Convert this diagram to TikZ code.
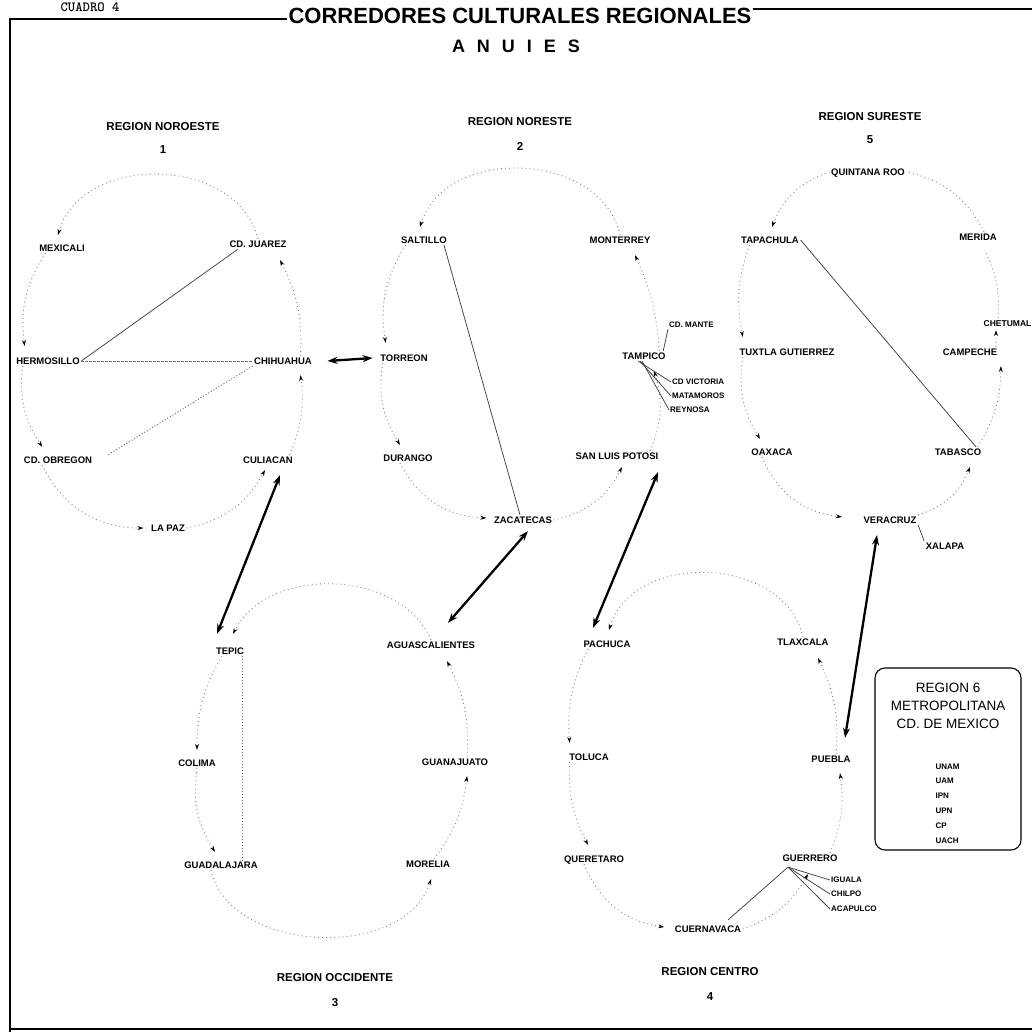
\documentclass[tikz,border=0pt]{standalone}
\usepackage{fontspec}
\setmainfont{Liberation Sans}
\usetikzlibrary{arrows.meta,calc}
\begin{document}
\begin{tikzpicture}[x=1pt,y=1pt,
  city/.style={font=\fontsize{9.5}{10}\selectfont\bfseries, inner sep=1.5pt, text height=6.8pt, text depth=0pt},
  smallcity/.style={font=\fontsize{8}{9}\selectfont\bfseries, inner sep=1pt, anchor=west, text height=5.8pt, text depth=0pt},
  cyc/.style={draw=black!50, line width=0.9pt, dash pattern=on 0.9pt off 3.2pt, -{Stealth[black,length=6pt,width=4pt]}},
  cycn/.style={draw=black!50, line width=0.9pt, dash pattern=on 0.9pt off 3.2pt},
  chord/.style={draw=black!75, line width=0.75pt},
  chordd/.style={draw=black!55, line width=0.9pt, dash pattern=on 2.5pt off 1.5pt},
  chorddot/.style={draw=black!60, line width=0.9pt, dash pattern=on 1pt off 2pt},
  dbl/.style={line width=2.3pt, {Stealth[length=10pt,width=7pt]}-{Stealth[length=10pt,width=7pt]}},
  rtitle/.style={font=\fontsize{11.5}{13}\selectfont\bfseries},
  frame/.style={line width=1.3pt},
]
\useasboundingbox (0,0) rectangle (1032,-1032);

% ---------- titles and frame
\node[font=\fontsize{22}{24}\selectfont\bfseries, inner sep=0pt] (title) at (520,-16) {CORREDORES CULTURALES REGIONALES};
\node[font=\fontsize{18}{20}\selectfont\bfseries] (anuies) at (516,-46) {A\hspace{12pt}N\hspace{12pt}U\hspace{12pt}I\hspace{12pt}E\hspace{12pt}S};
\node[font=\ttfamily\bfseries\fontsize{14}{14}\selectfont, anchor=base] (cuadro) at (90,-12) {CUADRO\ 4};
\draw[frame] ([xshift=-1pt,yshift=-3pt]title.west) -- (10,-19) -- (10,-1032);
\draw[frame] ([xshift=1pt,yshift=7pt]title.east) -- (1032,-9);
\draw[line width=1.6pt] (10,-1029) -- (1032,-1029);

% ---------- region titles
\node[rtitle] (t1) at (163,-127) {REGION NOROESTE};
\node[rtitle] (n1) at (163,-150) {1};
\node[rtitle] (t2) at (520,-122) {REGION NORESTE};
\node[rtitle] (n2) at (520,-146) {2};
\node[rtitle] (t5) at (870,-117) {REGION SURESTE};
\node[rtitle] (n5) at (870,-140) {5};
\node[rtitle] (t3) at (335,-978) {REGION OCCIDENTE};
\node[rtitle] (n3) at (335,-1003) {3};
\node[rtitle] (t4) at (710,-972) {REGION CENTRO};
\node[rtitle] (n4) at (710,-997) {4};

% ---------- region 1 nodes
\node[city] (mexicali) at (62,-248) {MEXICALI};
\node[city] (cdjuarez) at (258,-244) {CD. JUAREZ};
\node[city] (hermosillo) at (48,-361) {HERMOSILLO};
\node[city] (chihuahua) at (283,-361) {CHIHUAHUA};
\node[city] (obregon) at (58,-460) {CD. OBREGON};
\node[city] (culiacan) at (268,-460) {CULIACAN};
\node[city] (lapaz) at (168,-528) {LA PAZ};

% ---------- region 2 nodes
\node[city] (saltillo) at (424,-240) {SALTILLO};
\node[city] (monterrey) at (620,-240) {MONTERREY};
\node[smallcity] (cdmante) at (668,-325) {CD. MANTE};
\node[city] (tampico) at (644,-356) {TAMPICO};
\node[smallcity] (cdvictoria) at (671,-382) {CD VICTORIA};
\node[smallcity] (matamoros) at (671,-396) {MATAMOROS};
\node[smallcity] (reynosa) at (669,-410) {REYNOSA};
\node[city] (torreon) at (404,-358) {TORREON};
\node[city] (durango) at (408,-458) {DURANGO};
\node[city] (slp) at (617,-456) {SAN LUIS POTOSI};
\node[city] (zacatecas) at (523,-520) {ZACATECAS};

% ---------- region 5 nodes
\node[city] (quintana) at (868,-172) {QUINTANA ROO};
\node[city] (tapachula) at (770,-240) {TAPACHULA};
\node[city] (merida) at (978,-237) {MERIDA};
\node[city, anchor=west, font=\fontsize{8.5}{9}\selectfont\bfseries] (chetumal) at (982,-323) {CHETUMAL};
\node[city] (campeche) at (970,-352) {CAMPECHE};
\node[city] (tuxtla) at (787,-352) {TUXTLA GUTIERREZ};
\node[city] (oaxaca) at (772,-452) {OAXACA};
\node[city] (tabasco) at (958,-452) {TABASCO};
\node[city] (veracruz) at (890,-520) {VERACRUZ};
\node[city] (xalapa) at (945,-546) {XALAPA};

% ---------- region 3 nodes
\node[city] (tepic) at (230,-651) {TEPIC};
\node[city] (aguas) at (431,-645) {AGUASCALIENTES};
\node[city] (colima) at (197,-763) {COLIMA};
\node[city] (guanajuato) at (455,-762) {GUANAJUATO};
\node[city] (guadalajara) at (221,-865) {GUADALAJARA};
\node[city] (morelia) at (428,-864) {MORELIA};

% ---------- region 4 nodes
\node[city] (pachuca) at (607,-644) {PACHUCA};
\node[city] (tlaxcala) at (803,-642) {TLAXCALA};
\node[city] (toluca) at (589,-757) {TOLUCA};
\node[city] (puebla) at (831,-759) {PUEBLA};
\node[city] (queretaro) at (594,-859) {QUERETARO};
\node[city] (guerrero) at (810,-858) {GUERRERO};
\node[smallcity] (iguala) at (830,-880) {IGUALA};
\node[smallcity] (chilpo) at (830,-894) {CHILPO};
\node[smallcity] (acapulco) at (830,-909) {ACAPULCO};
\node[city] (cuernavaca) at (708,-929) {CUERNAVACA};

% ---------- region 6 box
\node[draw, rounded corners=10pt, line width=1.1pt, minimum width=146pt, minimum height=182pt] (r6box) at (948,-759) {};
\node[font=\fontsize{13.5}{15}\selectfont, align=center, anchor=north] (r6title) at ([yshift=-12pt]r6box.north) {REGION 6\\[3pt]METROPOLITANA\\[3pt]CD. DE MEXICO};
\node[font=\fontsize{8}{14.8}\selectfont\bfseries, align=left, anchor=north west] (r6list) at (932,-760) {UNAM\\UAM\\IPN\\UPN\\CP\\UACH};

% ---------- region 1 cycle
\draw[cyc] (cdjuarez.north) to[bend right=75, looseness=1.1] ([xshift=-4pt,yshift=8pt]mexicali.north);
\draw[cyc] ([xshift=8pt]mexicali.south west) to[bend right=20] ([xshift=10pt,yshift=10pt]hermosillo.north west);
\draw[cyc] ([xshift=8pt]hermosillo.south west) to[bend right=20] ([xshift=20pt,yshift=8pt]obregon.north west);
\draw[cyc] ([xshift=20pt]obregon.south west) to[bend right=32] ([xshift=-6pt]lapaz.west);
\draw[cyc] (lapaz.east) to[bend right=25] ([xshift=-3pt,yshift=-5pt]culiacan.south);
\draw[cyc] ([xshift=-5pt]culiacan.north east) to[bend right=15] ([xshift=-13pt,yshift=-9pt]chihuahua.south east);
\draw[cyc] ([xshift=-13pt]chihuahua.north east) to[bend right=15] ([xshift=22pt,yshift=-11pt]cdjuarez.south);
\draw[chord] (hermosillo.east) -- ([xshift=-20pt]cdjuarez.south);
\draw[chordd] (hermosillo.east) -- (chihuahua.west);
\draw[chorddot] (chihuahua.south west) -- ([xshift=14pt]obregon.north east);

% ---------- region 2 cycle
\draw[cyc] (monterrey.north) to[bend right=75, looseness=1.1] ([xshift=-4pt,yshift=8pt]saltillo.north);
\draw[cyc] ([xshift=6pt]saltillo.south west) to[bend right=20] ([xshift=7pt,yshift=10pt]torreon.north west);
\draw[cyc] ([xshift=4pt]torreon.south west) to[bend right=20] ([xshift=-8pt,yshift=8pt]durango.north);
\draw[cyc] ([xshift=-8pt]durango.south) to[bend right=30] ([xshift=-6pt,yshift=2pt]zacatecas.west);
\draw[cyc] (zacatecas.east) to[bend right=25] ([xshift=5pt,yshift=-6pt]slp.south);
\draw[cyc] ([xshift=-10pt]slp.north east) to[bend right=20] ([xshift=10pt,yshift=-10pt]tampico.south);
\draw[cyc] ([xshift=-8pt]tampico.north east) to[bend right=10] ([xshift=15pt,yshift=-10pt]monterrey.south);
\draw[chord] ([xshift=20pt]saltillo.south) -- ([xshift=-3pt]zacatecas.north);
\draw[chord] ([xshift=-4pt]tampico.north east) -- (cdmante.south west);
\draw[chord] ([xshift=-6pt]tampico.south) -- (cdvictoria.west);
\draw[chord] ([xshift=-4pt]tampico.south) -- (matamoros.west);
\draw[chord] ([xshift=-2pt]tampico.south) -- (reynosa.west);

% ---------- region 5 cycle
\draw[cycn] ([xshift=6pt]merida.north) to[bend right=25] (quintana.east);
\draw[cyc] (quintana.west) to[bend right=25] ([xshift=2pt,yshift=8pt]tapachula.north);
\draw[cyc] ([xshift=10pt]tapachula.south west) to[bend right=15] ([xshift=5pt,yshift=10pt]tuxtla.north west);
\draw[cyc] ([xshift=5pt]tuxtla.south west) to[bend right=20] ([xshift=-12pt,yshift=8pt]oaxaca.north);
\draw[cyc] ([xshift=-10pt]oaxaca.south) to[bend right=30] ([xshift=-20pt,yshift=3pt]veracruz.west);
\draw[cyc] (veracruz.north east) to[bend right=25] ([xshift=12pt,yshift=-10pt]tabasco.south);
\draw[cyc] ([xshift=-5pt]tabasco.north east) to[bend right=15] ([xshift=2pt,yshift=-9pt]campeche.south east);
\draw[cyc] ([xshift=-3pt]campeche.north east) -- ([xshift=14pt,yshift=-2pt]chetumal.south west);
\draw[cycn] ([xshift=16pt]chetumal.north west) to[bend right=15] ([xshift=7pt,yshift=-9pt]merida.south);
\draw[chord] (tapachula.east) -- ([xshift=18pt]tabasco.north);
\draw[chord] (veracruz.south east) -- (xalapa.north west);

% ---------- region 3 cycle
\draw[cyc] (aguas.north) to[bend right=65] ([xshift=3pt,yshift=12pt]tepic.north);
\draw[cyc] ([xshift=-8pt]tepic.south) to[bend right=15] ([yshift=8pt]colima.north);
\draw[cyc] (colima.south) to[bend right=20] ([xshift=-6pt,yshift=8pt]guadalajara.north);
\draw[cyc] ([xshift=-10pt]guadalajara.south) to[bend right=75] ([xshift=3pt,yshift=-10pt]morelia.south);
\draw[cyc] ([xshift=6pt]morelia.north) to[bend right=15] ([xshift=12pt,yshift=-9pt]guanajuato.south);
\draw[cyc] ([xshift=12pt]guanajuato.north) to[bend right=15] ([xshift=16pt,yshift=-11pt]aguas.south);
\draw[chorddot] ([xshift=-3pt]tepic.south east) -- ([xshift=-3pt,yshift=-3pt]tepic.south east |- guadalajara.north);

% ---------- region 4 cycle
\draw[cyc] (tlaxcala.north) to[bend right=75, looseness=1.1] ([xshift=2pt,yshift=9pt]pachuca.north);
\draw[cyc] ([xshift=6pt]pachuca.south west) to[bend right=15] ([xshift=2pt,yshift=9pt]toluca.north west);
\draw[cyc] ([xshift=2pt]toluca.south west) to[bend right=15] ([xshift=-6pt,yshift=9pt]queretaro.north);
\draw[cyc] ([xshift=-10pt]queretaro.south) to[bend right=30] ([xshift=-9pt,yshift=2pt]cuernavaca.west);
\draw[cyc] (cuernavaca.east) to[bend right=20] ([xshift=-2pt,yshift=-11pt]guerrero.south);
\draw[cyc] ([xshift=20pt]guerrero.north) to[bend right=15] ([xshift=9pt,yshift=-9pt]puebla.south);
\draw[cyc] ([xshift=5pt]puebla.north) to[bend right=15] ([xshift=15pt,yshift=-11pt]tlaxcala.south);
\coordinate (gf) at ([xshift=-22pt,yshift=-4pt]guerrero.south);
\draw[chord] (gf) -- ([xshift=20pt,yshift=4pt]cuernavaca.north);
\draw[chord] (gf) -- (iguala.west);
\draw[chord] (gf) -- (chilpo.west);
\draw[chord] (gf) -- (acapulco.west);

% ---------- corridors between regions
\draw[dbl] ([xshift=14pt]chihuahua.east) -- ([xshift=-6pt]torreon.west);
\draw[dbl] ([xshift=12pt,yshift=-10pt]culiacan.south) -- ([xshift=-13pt,yshift=12pt]tepic.north);
\draw[dbl] ([xshift=5pt,yshift=-6pt]zacatecas.south) -- ([xshift=17pt,yshift=17pt]aguas.north);
\draw[dbl] ([xshift=-2pt,yshift=-11pt]slp.south east) -- ([xshift=-14pt,yshift=11pt]pachuca.north);
\draw[dbl] ([xshift=-13pt,yshift=-10pt]veracruz.south) -- ([xshift=14pt,yshift=16pt]puebla.north);
\end{tikzpicture}
\end{document}
